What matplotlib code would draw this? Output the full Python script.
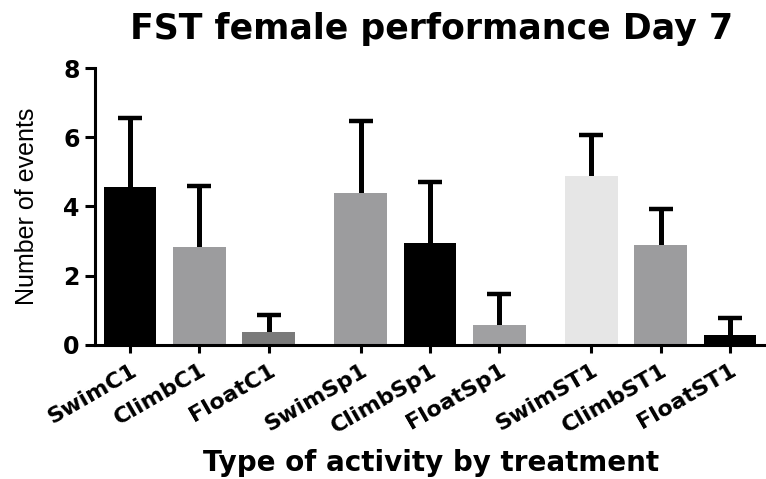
import numpy as np
import matplotlib.pyplot as plt

labels = ["SwimC1", "ClimbC1", "FloatC1",
          "SwimSp1", "ClimbSp1", "FloatSp1",
          "SwimST1", "ClimbST1", "FloatST1"]
means = [4.55, 2.84, 0.36, 4.38, 2.94, 0.57, 4.88, 2.88, 0.29]
sem = [2.02, 1.74, 0.49, 2.09, 1.78, 0.90, 1.19, 1.04, 0.48]
colors = ["#000000", "#9c9c9e", "#7a7a7a",
          "#9c9c9e", "#000000", "#a0a0a2",
          "#e6e6e6", "#9c9c9e", "#000000"]

# three groups of three, with a small gap between groups
x = np.array([i + (i // 3) * 0.33 for i in range(len(labels))])

fig = plt.figure(figsize=(7.66, 4.79), dpi=100)
ax = fig.add_axes([0.124, 0.28, 0.876, 0.578])

ax.bar(x, means, width=0.76, color=colors, zorder=2)
# upper error bars only: hide the lower cap
eb = ax.errorbar(x, means, yerr=[np.zeros(len(sem)), sem], fmt="none",
                 ecolor="black", elinewidth=3.6, capsize=8.5, capthick=3.2, zorder=1)
eb[1][0].set_visible(False)

ax.set_ylim(0, 8)
ax.set_xlim(-0.505, 9.18)
ax.set_yticks([0, 2, 4, 6, 8])
ax.set_xticks(x)
ax.set_xticklabels(labels, rotation=30, ha="right", rotation_mode="anchor",
                   fontsize=16, fontweight="bold")
for t in ax.get_yticklabels():
    t.set_fontsize(17)
    t.set_fontweight("bold")

for s in ["top", "right"]:
    ax.spines[s].set_visible(False)
ax.spines["left"].set_linewidth(2.2)
ax.spines["bottom"].set_linewidth(2.2)
ax.tick_params(axis="y", length=7, width=2.2, pad=4)
ax.tick_params(axis="x", length=6, width=2.2, pad=5)

fig.text(0.563, 0.94, "FST female performance Day 7", ha="center", va="center",
         fontsize=25, fontweight="bold")
fig.text(0.035, 0.57, "Number of events", rotation=90, ha="center", va="center",
         fontsize=18, family="Liberation Sans")
fig.text(0.563, 0.033, "Type of activity by treatment", ha="center", va="center",
         fontsize=20, fontweight="bold")

fig.savefig("out.png", dpi=100)
